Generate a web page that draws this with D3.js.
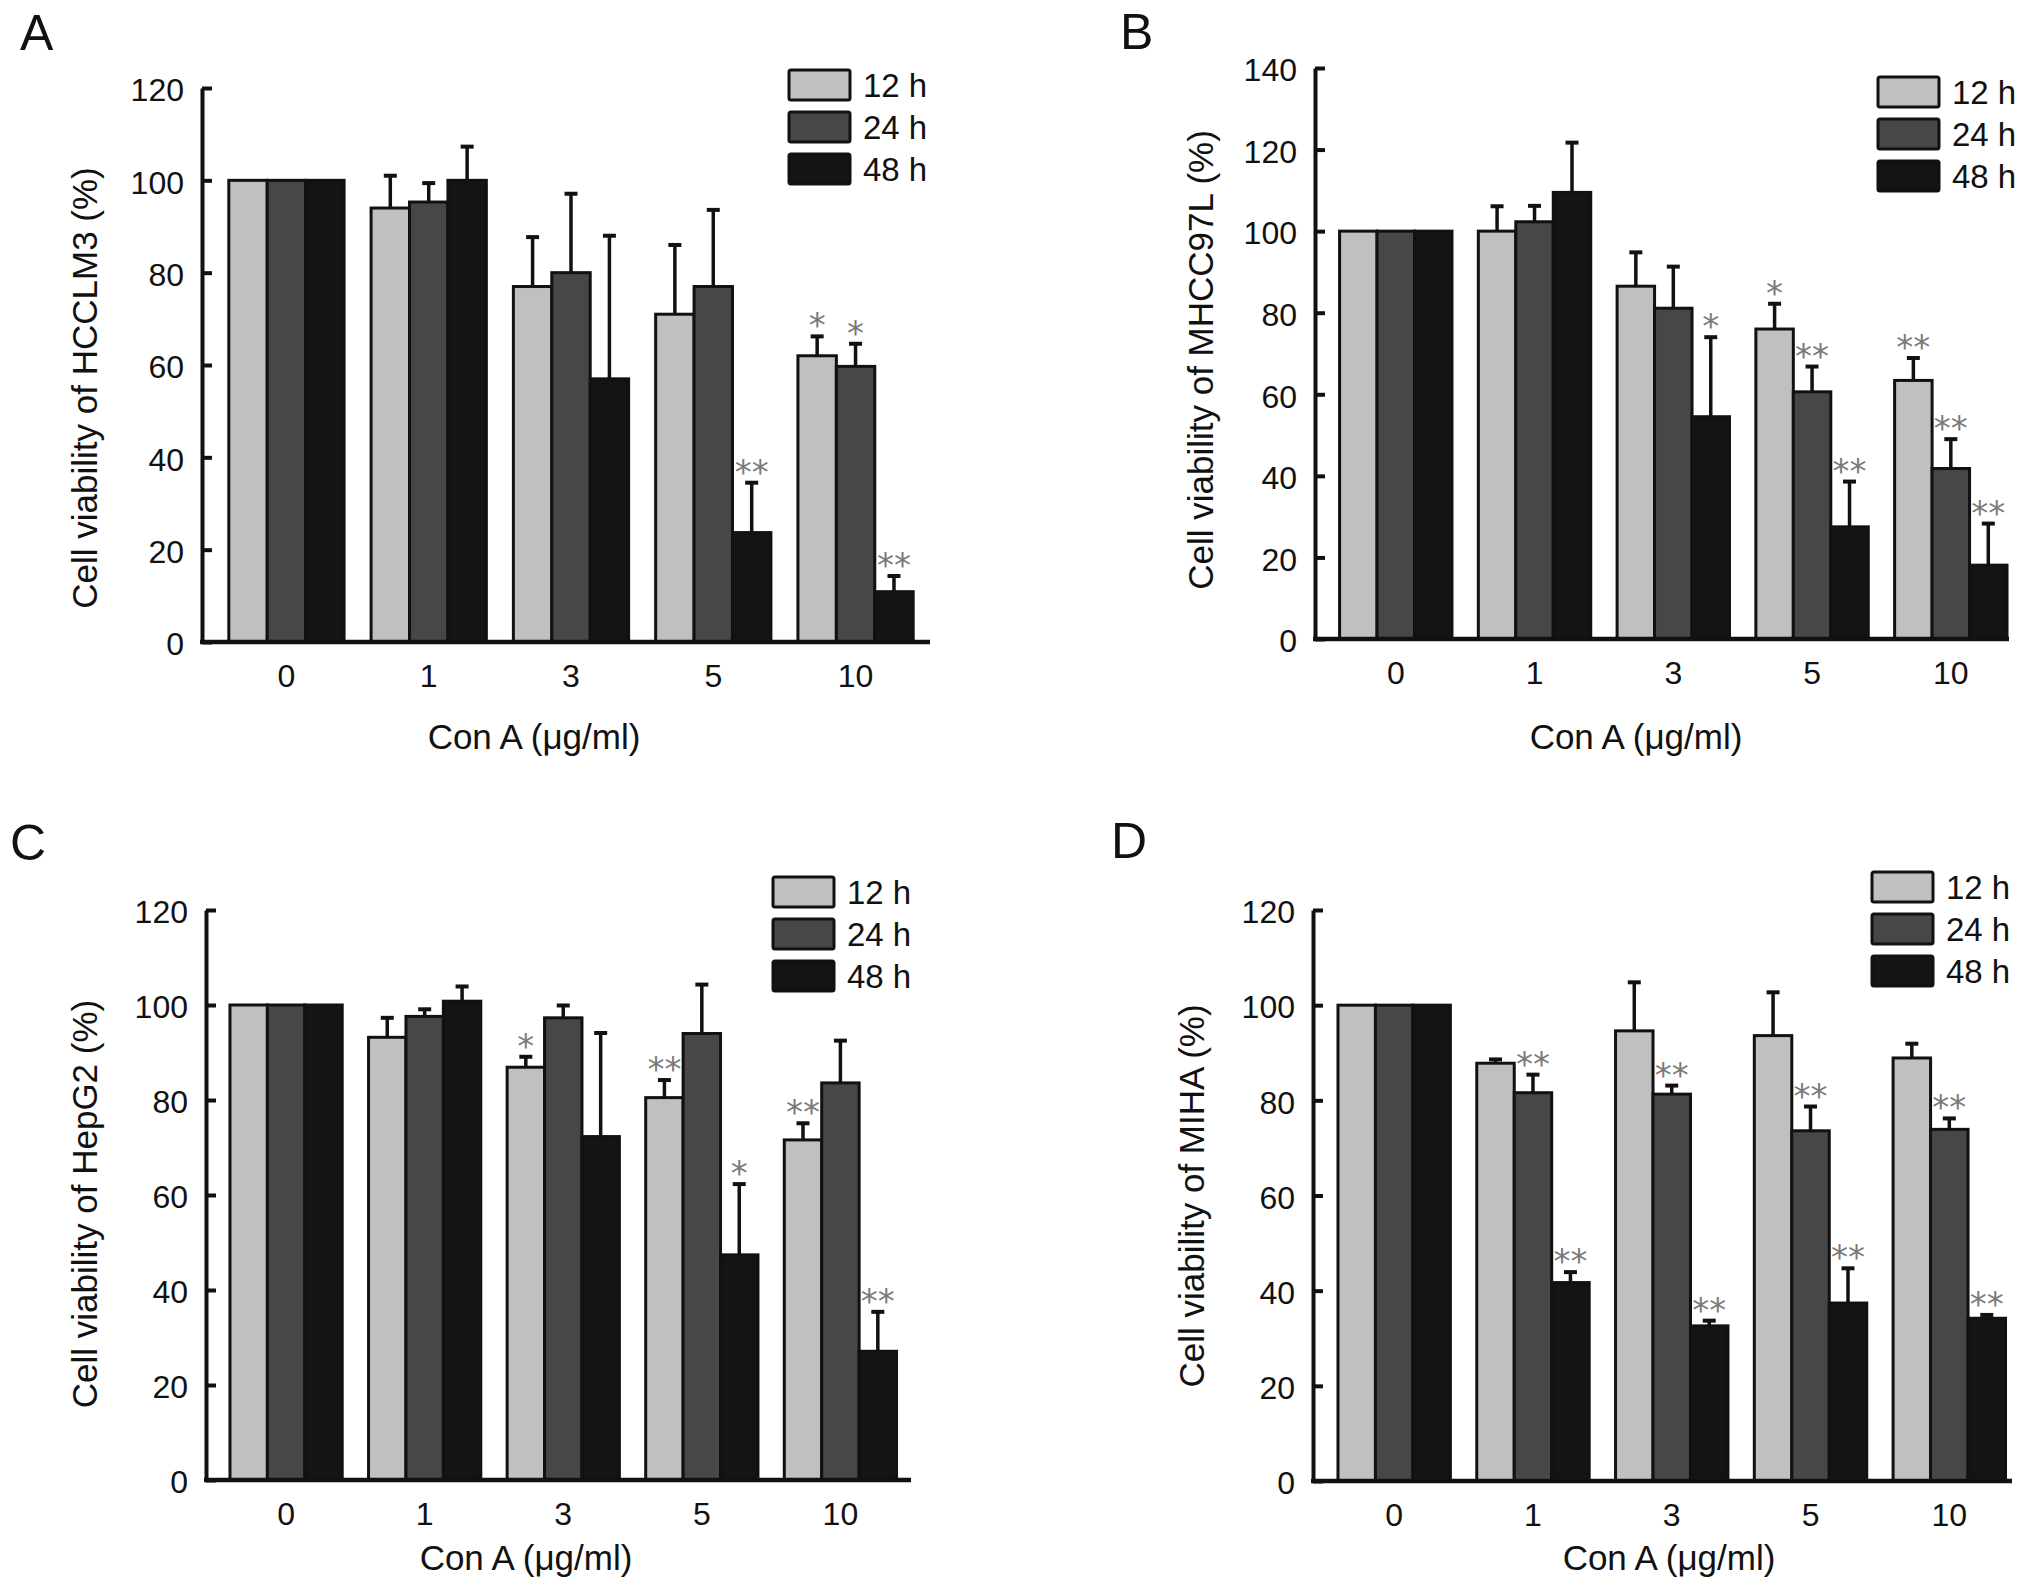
<!DOCTYPE html>
<html>
<head>
<meta charset="utf-8">
<script src="https://cdn.jsdelivr.net/npm/d3@7"></script>
<style>
  body { margin: 0; background: #fff; }
  text { font-family: "Liberation Sans", Arial, sans-serif; fill: #111; }
</style>
</head>
<body>
<script>
// categories and series
var categories = ["0", "1", "3", "5", "10"];
var seriesNames = ["12 h", "24 h", "48 h"];
var ticks120 = [0, 20, 40, 60, 80, 100, 120];
var ticks140 = [0, 20, 40, 60, 80, 100, 120, 140];

// means per series (12 h, 24 h, 48 h), one value per Con A dose
var hcclm3Means = [[100, 94, 77, 71, 62], [100, 95.3, 80, 77, 59.7], [100, 100, 57, 23.7, 10.9]];
var hcclm3Sd = [[0, 7, 10.7, 15, 4.2], [0, 4.1, 17.1, 16.6, 4.9], [0, 7.3, 31, 10.8, 3.4]];
var hcclm3Stars = [["", "", "", "", "*"], ["", "", "", "", "*"], ["", "", "", "**", "**"]];

var mhcc97lMeans = [[100, 100, 86.5, 76, 63.4], [100, 102.3, 81.1, 60.6, 41.8], [100, 109.5, 54.5, 27.5, 18.1]];
var mhcc97lSd = [[0, 6.1, 8.3, 6.2, 5.5], [0, 3.9, 10.2, 6.2, 7.2], [0, 12.2, 19.5, 11.1, 10.2]];
var mhcc97lStars = [["", "", "", "*", "**"], ["", "", "", "**", "**"], ["", "", "*", "**", "**"]];

var hepg2Means = [[100, 93.2, 86.9, 80.5, 71.6], [100, 97.6, 97.3, 94, 83.6], [100, 100.8, 72.3, 47.4, 27.1]];
var hepg2Sd = [[0, 4.1, 2.2, 3.7, 3.5], [0, 1.5, 2.6, 10.3, 8.9], [0, 3.1, 21.8, 14.9, 8.3]];
var hepg2Stars = [["", "", "*", "**", "**"], ["", "", "", "", ""], ["", "", "", "*", "**"]];

var mihaMeans = [[100, 87.8, 94.6, 93.6, 88.9], [100, 81.6, 81.3, 73.6, 73.9], [100, 41.7, 32.6, 37.4, 34.2]];
var mihaSd = [[0, 0.8, 10.2, 9.1, 3], [0, 3.8, 1.8, 5.1, 2.3], [0, 2.2, 1.1, 7.3, 0.7]];
var mihaStars = [["", "", "", "", ""], ["", "**", "**", "**", "**"], ["", "**", "**", "**", "**"]];

var colors = ["#c0c0c0", "#474747", "#141414"];

var panels = [
  {label: "A", title: "Cell viability of HCCLM3 (%)", means: hcclm3Means, sd: hcclm3Sd, stars: hcclm3Stars,
   ticks: ticks120, ymax: 120, axisX: 202, yTop: 88, yBase: 642, xEnd: 930, band: [215.3, 926.7],
   labelPos: [20, 50], titlePos: [97, 388], xTitlePos: [534, 749], legend: [789, 70]},
  {label: "B", title: "Cell viability of MHCC97L (%)", means: mhcc97lMeans, sd: mhcc97lSd, stars: mhcc97lStars,
   ticks: ticks140, ymax: 140, axisX: 1315, yTop: 68, yBase: 639, xEnd: 2009, band: [1326.4, 2020.2],
   labelPos: [1120, 49], titlePos: [1213, 360], xTitlePos: [1636, 749], legend: [1878, 77]},
  {label: "C", title: "Cell viability of HepG2 (%)", means: hepg2Means, sd: hepg2Sd, stars: hepg2Stars,
   ticks: ticks120, ymax: 120, axisX: 206, yTop: 910, yBase: 1480, xEnd: 911, band: [216.8, 909.7],
   labelPos: [10, 860], titlePos: [97, 1204], xTitlePos: [526, 1570], legend: [773, 877]},
  {label: "D", title: "Cell viability of MIHA (%)", means: mihaMeans, sd: mihaSd, stars: mihaStars,
   ticks: ticks120, ymax: 120, axisX: 1313, yTop: 910, yBase: 1481, xEnd: 2012, band: [1324.8, 2018.7],
   labelPos: [1111, 858], titlePos: [1204, 1196], xTitlePos: [1669, 1570], legend: [1872, 872]}
];

var svg = d3.select("body").append("svg")
    .attr("width", 2032)
    .attr("height", 1588);

panels.forEach(drawPanel);

function drawPanel(p) {
  var g = svg.append("g");

  var x = d3.scaleBand().domain(categories).range(p.band).paddingInner(0.19).paddingOuter(0.095);
  var xs = d3.scaleBand().domain(seriesNames).range([0, x.bandwidth()]);
  var y = d3.scaleLinear().domain([0, p.ymax]).range([p.yBase, p.yTop]);

  // flatten into one record per bar
  var rows = [];
  seriesNames.forEach(function(s, si) {
    categories.forEach(function(c, ci) {
      rows.push({cat: c, series: s, si: si, mean: p.means[si][ci], sd: p.sd[si][ci], star: p.stars[si][ci]});
    });
  });

  // bars
  g.selectAll("rect.bar").data(rows).enter().append("rect")
      .attr("class", "bar")
      .attr("x", function(d) { return x(d.cat) + xs(d.series); })
      .attr("y", function(d) { return y(d.mean); })
      .attr("width", xs.bandwidth())
      .attr("height", function(d) { return y(0) - y(d.mean); })
      .style("fill", function(d) { return colors[d.si]; })
      .style("stroke", "#111")
      .style("stroke-width", 3);

  // error bars (upper only)
  var eb = rows.filter(function(d) { return d.sd > 0; });
  g.selectAll("line.err").data(eb).enter().append("line")
      .attr("class", "err")
      .attr("x1", function(d) { return x(d.cat) + xs(d.series) + xs.bandwidth() / 2; })
      .attr("x2", function(d) { return x(d.cat) + xs(d.series) + xs.bandwidth() / 2; })
      .attr("y1", function(d) { return y(d.mean); })
      .attr("y2", function(d) { return y(d.mean + d.sd); })
      .style("stroke", "#111").style("stroke-width", 3.5);
  g.selectAll("line.cap").data(eb).enter().append("line")
      .attr("class", "cap")
      .attr("x1", function(d) { return x(d.cat) + xs(d.series) + xs.bandwidth() / 2 - 6.5; })
      .attr("x2", function(d) { return x(d.cat) + xs(d.series) + xs.bandwidth() / 2 + 6.5; })
      .attr("y1", function(d) { return y(d.mean + d.sd); })
      .attr("y2", function(d) { return y(d.mean + d.sd); })
      .style("stroke", "#111").style("stroke-width", 4);

  // significance stars
  g.selectAll("text.star").data(rows.filter(function(d) { return d.star; })).enter().append("text")
      .attr("class", "star")
      .attr("x", function(d) { return x(d.cat) + xs(d.series) + xs.bandwidth() / 2; })
      .attr("y", function(d) { return y(d.mean + d.sd) + 1; })
      .attr("text-anchor", "middle")
      .style("font-family", "'DejaVu Sans', sans-serif")
      .style("font-size", "34px")
      .style("fill", "#7a7a7a")
      .text(function(d) { return d.star; });

  // y axis, inward ticks
  var yAxis = g.append("g")
      .attr("transform", "translate(" + p.axisX + ",0)")
      .call(d3.axisLeft(y).tickValues(p.ticks).tickSizeInner(-10).tickSizeOuter(0).tickPadding(18));
  yAxis.select(".domain").style("stroke", "#111").style("stroke-width", 4);
  yAxis.selectAll(".tick line").style("stroke", "#111").style("stroke-width", 4);
  yAxis.selectAll(".tick text").attr("dy", "0.4em").style("font-size", "32px").style("font-family", "'Liberation Sans', Arial, sans-serif").style("fill", "#111");

  // x axis, no ticks
  var xAxis = g.append("g")
      .attr("transform", "translate(0," + p.yBase + ")")
      .call(d3.axisBottom(x).tickSize(0).tickPadding(22));
  xAxis.select(".domain").remove();
  xAxis.selectAll(".tick text").style("font-size", "32px").style("font-family", "'Liberation Sans', Arial, sans-serif").style("fill", "#111");
  g.append("line")
      .attr("x1", p.axisX - 2).attr("x2", p.xEnd)
      .attr("y1", p.yBase).attr("y2", p.yBase)
      .style("stroke", "#111").style("stroke-width", 4.5);

  // axis titles
  g.append("text")
      .attr("transform", "translate(" + p.titlePos[0] + "," + p.titlePos[1] + ") rotate(-90)")
      .attr("text-anchor", "middle")
      .style("font-size", "35px")
      .text(p.title);
  g.append("text")
      .attr("x", p.xTitlePos[0]).attr("y", p.xTitlePos[1])
      .attr("text-anchor", "middle")
      .style("font-size", "35px")
      .text("Con A (\u03bcg/ml)");

  // panel letter
  g.append("text")
      .attr("x", p.labelPos[0]).attr("y", p.labelPos[1])
      .style("font-size", "50px")
      .text(p.label);

  // legend
  var leg = g.selectAll("g.leg").data(seriesNames).enter().append("g")
      .attr("class", "leg")
      .attr("transform", function(d, i) { return "translate(" + p.legend[0] + "," + (p.legend[1] + i * 42) + ")"; });
  leg.append("rect")
      .attr("width", 61).attr("height", 30).attr("rx", 2)
      .style("fill", function(d, i) { return colors[i]; })
      .style("stroke", "#111").style("stroke-width", 3);
  leg.append("text")
      .attr("x", 74).attr("y", 27)
      .style("font-size", "33px")
      .text(function(d) { return d; });
}
</script>
</body>
</html>
